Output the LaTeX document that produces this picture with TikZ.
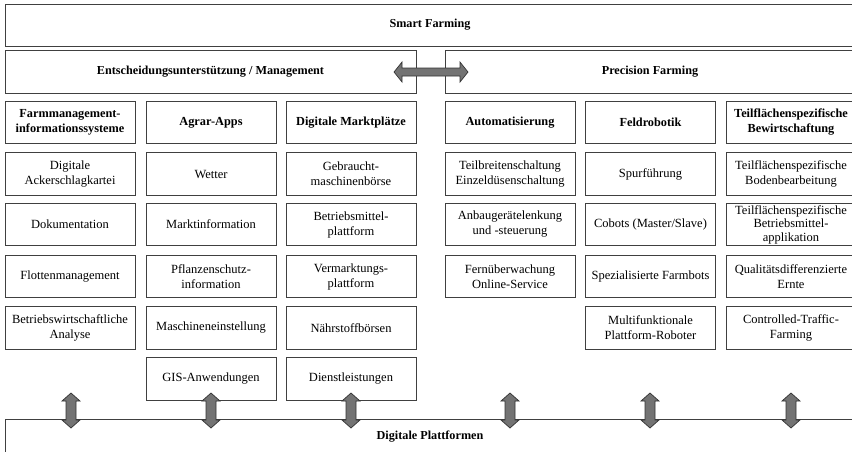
\documentclass[tikz,border=0pt]{standalone}
\usepackage{fontspec}
\setmainfont{Liberation Serif}
\begin{document}
\begin{tikzpicture}[x=1pt,y=-1pt,
  box/.style={draw=black!75,line width=0.9pt,rectangle,inner sep=0pt,outer sep=0pt,
    minimum width=130pt,minimum height=42.5pt,align=center,
    font=\fontsize{12.5}{15}\selectfont},
  head/.style={box,font=\fontsize{12.3}{15}\selectfont\bfseries},
  wide/.style={draw=black!75,line width=0.9pt,rectangle,inner sep=0pt,outer sep=0pt,
    font=\fontsize{12.2}{15}\selectfont\bfseries},
  blockarrow/.style={draw=black!80,line width=0.7pt,fill=black!55}]
\useasboundingbox (0,0) rectangle (852,451);
% top boxes
\node[wide,minimum width=850pt,minimum height=42pt] (smart) at (430,25) {Smart Farming};
\node[wide,minimum width=411pt,minimum height=43pt] (ent) at (210.5,71.5) {Entscheidungsunterstützung / Management};
\node[wide,minimum width=410pt,minimum height=43pt] (prec) at (650,71.5) {Precision Farming};
% column headers
\node[head] (h1) at (70,122.5) {Farmmanagement-\\informationssysteme};
\node[head] (h2) at (211,122.5) {Agrar-Apps};
\node[head] (h3) at (351,122.5) {Digitale Marktplätze};
\node[head] (h4) at (510,122.5) {Automatisierung};
\node[head] (h5) at (650.5,122.5) {Feldrobotik};
\node[head] (h6) at (791,122.5) {Teilflächenspezifische\\Bewirtschaftung};
% column 1
\node[box] (a2) at (70,174) {Digitale\\Ackerschlagkartei};
\node[box] (a3) at (70,224.5) {Dokumentation};
\node[box] (a4) at (70,276.5) {Flottenmanagement};
\node[box] (a5) at (70,328) {Betriebswirtschaftliche\\Analyse};
% column 2
\node[box] (b2) at (211,174) {Wetter};
\node[box] (b3) at (211,224.5) {Marktinformation};
\node[box] (b4) at (211,276.5) {Pflanzenschutz-\\information};
\node[box] (b5) at (211,328) {Maschineneinstellung};
\node[box] (b6) at (211,379) {GIS-Anwendungen};
% column 3
\node[box] (c2) at (351,174) {Gebraucht-\\maschinenbörse};
\node[box] (c3) at (351,224.5) {Betriebsmittel-\\plattform};
\node[box] (c4) at (351,276.5) {Vermarktungs-\\plattform};
\node[box] (c5) at (351,328) {Nährstoffbörsen};
\node[box] (c6) at (351,379) {Dienstleistungen};
% column 4
\node[box] (d2) at (510,174) {Teilbreitenschaltung\\Einzeldüsenschaltung};
\node[box] (d3) at (510,224.5) {Anbaugerätelenkung\\und -steuerung};
\node[box] (d4) at (510,276.5) {Fernüberwachung\\Online-Service};
% column 5
\node[box] (e2) at (650.5,174) {Spurführung};
\node[box] (e3) at (650.5,224.5) {Cobots (Master/Slave)};
\node[box] (e4) at (650.5,276.5) {Spezialisierte Farmbots};
\node[box] (e5) at (650.5,328) {Multifunktionale\\Plattform-Roboter};
% column 6
\node[box] (f2) at (791,174) {Teilflächenspezifische\\Bodenbearbeitung};
\node[box,font=\fontsize{12.5}{13.5}\selectfont] (f3) at (791,224.5) {Teilflächenspezifische\\Betriebsmittel-\\applikation};
\node[box] (f4) at (791,276.5) {Qualitätsdifferenzierte\\Ernte};
\node[box] (f5) at (791,328) {Controlled-Traffic-\\Farming};
% bottom platform
\draw[draw=black!75,line width=0.9pt] (5,470) -- (5,419) -- (860,419) -- (860,470);
\node[font=\fontsize{12.2}{15}\selectfont\bfseries] (plat) at (430,437) {Digitale Plattformen};
% horizontal double arrow
\draw[blockarrow] (394,72) -- (402,62) -- (402,68) -- (460,68) -- (460,62) -- (468,72)
  -- (460,82) -- (460,76) -- (402,76) -- (402,82) -- cycle;
% vertical double arrows
\foreach \x in {71,211,351,510,650,791}{
  \draw[blockarrow] (\x,393) -- (\x+9,401) -- (\x+5,401) -- (\x+5,420) -- (\x+9,420)
    -- (\x,428) -- (\x-9,420) -- (\x-5,420) -- (\x-5,401) -- (\x-9,401) -- cycle;
}
\end{tikzpicture}
\end{document}
